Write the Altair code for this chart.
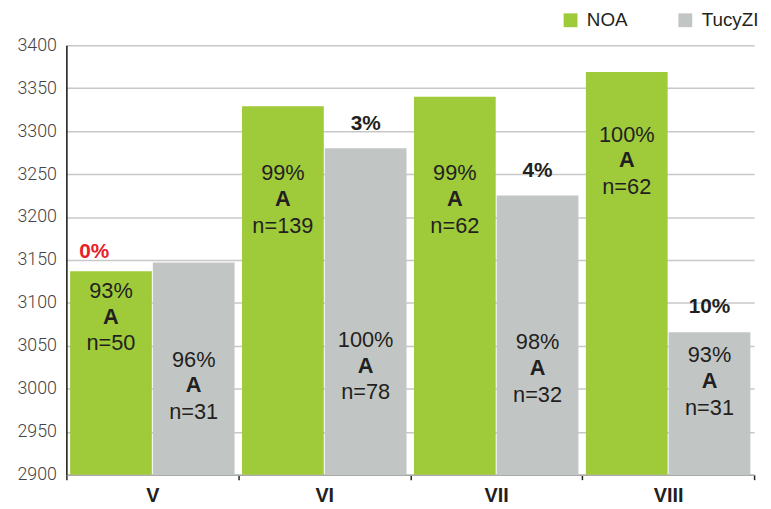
import altair as alt
import pandas as pd

categories = ["V", "VI", "VII", "VIII"]
series = ["NOA", "TucyZI"]
noa_values = [3137, 3329, 3340, 3369]
tucy_values = [3147, 3280, 3225, 3066]
noa_pct = ["93%", "99%", "99%", "100%"]
tucy_pct = ["96%", "100%", "98%", "93%"]
noa_grade = ["A", "A", "A", "A"]
tucy_grade = ["A", "A", "A", "A"]
noa_n = ["n=50", "n=139", "n=62", "n=62"]
tucy_n = ["n=31", "n=78", "n=32", "n=31"]
noa_label_y = [3114, 3251, 3251, 3296]
tucy_label_y = [3034, 3057, 3054, 3039]
noa_top = ["0%", "", "", ""]
tucy_top = ["", "3%", "4%", "10%"]
y_ticks = [2900, 2950, 3000, 3050, 3100, 3150, 3200, 3250, 3300, 3350, 3400]

rows = []
for i, c in enumerate(categories):
    rows.append(dict(cat=c, series="NOA", value=noa_values[i], pct=noa_pct[i],
                     grade=noa_grade[i], n=noa_n[i], label_y=noa_label_y[i], top=noa_top[i]))
    rows.append(dict(cat=c, series="TucyZI", value=tucy_values[i], pct=tucy_pct[i],
                     grade=tucy_grade[i], n=tucy_n[i], label_y=tucy_label_y[i], top=tucy_top[i]))
df = pd.DataFrame(rows)

GREEN = "#9fca3a"
GRAY = "#c1c6c4"
INK = "#231f20"
FONT = "Liberation Sans"

yscale = alt.Scale(domain=[2900, 3400], nice=False, zero=False)

base = alt.Chart(df).encode(
    x=alt.X("cat:N", sort=categories,
            scale=alt.Scale(paddingInner=0, paddingOuter=0),
            axis=alt.Axis(title=None, labelAngle=0, labelFontWeight="bold", labelFontSize=20,
                          labelColor=INK, labelFont=FONT, tickBand="extent", tickSize=5,
                          tickColor="#222222", tickWidth=1.5, domainColor="#aaaaaa",
                          domainWidth=1.5, labelPadding=6, labelBaseline="top", grid=False)),
    xOffset=alt.XOffset("series:N", sort=series,
                        scale=alt.Scale(paddingInner=0.012, paddingOuter=0.045)),
)

bars = base.mark_bar(clip=True).encode(
    y=alt.Y("value:Q", scale=yscale,
            axis=alt.Axis(values=y_ticks, format="d", title=None, ticks=False, labelPadding=10,
                          labelFontSize=18, labelColor="#444444", labelFont="Roboto",
                          labelFontWeight=300, gridColor="#c8c8c8", gridWidth=1.5,
                          domainColor="#111111", domainWidth=1.5)),
    color=alt.Color("series:N",
                    scale=alt.Scale(domain=series, range=[GREEN, GRAY]),
                    legend=alt.Legend(title=None, orient="none", legendX=500, legendY=-35,
                                      direction="horizontal", symbolType="square",
                                      symbolSize=196, symbolStrokeWidth=0,
                                      labelFontSize=19, labelFont=FONT, labelColor=INK,
                                      columnPadding=48, labelOffset=7, padding=0)),
)

pct_text = base.mark_text(fontSize=22, font=FONT, color=INK, baseline="middle").encode(
    y=alt.Y("label_y:Q", scale=yscale), text="pct:N")
grade_text = base.mark_text(fontSize=22, font=FONT, fontWeight="bold", color=INK,
                            baseline="middle", dy=26).encode(
    y=alt.Y("label_y:Q", scale=yscale), text="grade:N")
n_text = base.mark_text(fontSize=22, font=FONT, color=INK, baseline="middle", dy=53).encode(
    y=alt.Y("label_y:Q", scale=yscale), text="n:N")

top_black = base.transform_filter(
    "datum.top != '' && datum.series == 'TucyZI'"
).mark_text(fontSize=21, font=FONT, fontWeight="bold", color=INK, baseline="middle", dy=-25).encode(
    y=alt.Y("value:Q", scale=yscale), text="top:N")
top_red = base.transform_filter(
    "datum.top != '' && datum.series == 'NOA'"
).mark_text(fontSize=21, font=FONT, fontWeight="bold", color="#e8202a", baseline="middle",
            dy=-19, dx=-17).encode(
    y=alt.Y("value:Q", scale=yscale), text="top:N")

chart = alt.layer(bars, pct_text, grade_text, n_text, top_black, top_red).properties(
    width=695, height=434,
    autosize=alt.AutoSizeParams(type="none"),
    padding={"left": 59, "top": 35, "right": 9, "bottom": 31},
).configure_view(stroke=None)

chart.save("out.html", embed_options={"renderer": "svg", "actions": False})
